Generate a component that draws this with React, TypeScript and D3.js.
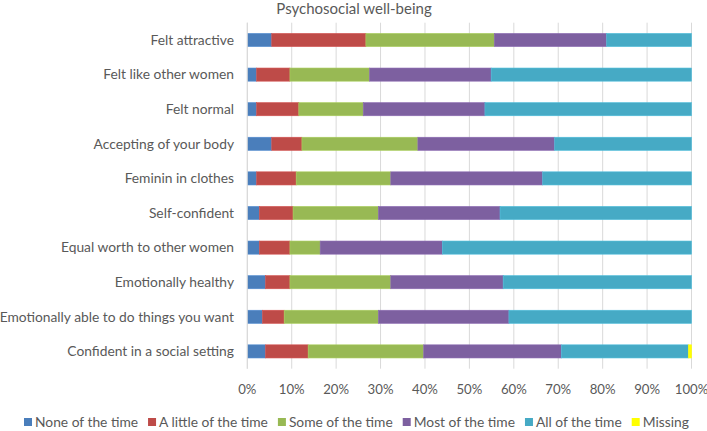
import React from "react";
import * as d3 from "d3";

const categories = [
  "Felt attractive",
  "Felt like other women",
  "Felt normal",
  "Accepting of your body",
  "Feminin in clothes",
  "Self-confident",
  "Equal worth to other women",
  "Emotionally healthy",
  "Emotionally able to do things you want",
  "Confident in a social setting",
];
const seriesNames = [
  "None of the time",
  "A little of the time",
  "Some of the time",
  "Most of the time",
  "All of the time",
  "Missing",
];
const noneOfTheTime = [5.5, 2.1, 2.1, 5.5, 2.1, 2.7, 2.7, 4.1, 3.4, 4.1];
const aLittleOfTheTime = [21.2, 7.5, 9.5, 6.8, 8.9, 7.6, 6.9, 5.5, 4.9, 9.6];
const someOfTheTime = [28.9, 17.9, 14.5, 26.1, 21.3, 19.2, 6.8, 22.7, 21.2, 26.0];
const mostOfTheTime = [25.3, 27.4, 27.4, 30.8, 34.2, 27.4, 27.5, 25.3, 29.4, 31.0];
const allOfTheTime = [19.1, 45.1, 46.5, 30.8, 33.5, 43.1, 56.1, 42.4, 41.1, 28.6];
const missing = [0, 0, 0, 0, 0, 0, 0, 0, 0, 0.7];
const tickValues = [0, 0.1, 0.2, 0.3, 0.4, 0.5, 0.6, 0.7, 0.8, 0.9, 1.0];
const colors = ["#4A7EBB", "#BE4B48", "#98B954", "#7D60A0", "#46AAC5", "#FFFF00"];
const title = "Psychosocial well-being";

const W = 707;
const H = 431;
const FONT = "Lato, 'Open Sans', sans-serif";
const FS = 13.8;

export default function App() {
  const seriesValues = [noneOfTheTime, aLittleOfTheTime, someOfTheTime, mostOfTheTime, allOfTheTime, missing];
  const rows = categories.map((c, i) => {
    const r: any = { category: c };
    seriesNames.forEach((s, j) => (r[s] = seriesValues[j][i]));
    return r;
  });
  const totals = rows.map((r) => seriesNames.reduce((a, s) => a + r[s], 0));
  const normRows = rows.map((r, i) => {
    const o: any = { category: r.category };
    seriesNames.forEach((s) => (o[s] = r[s] / totals[i]));
    return o;
  });
  const stacked = d3.stack<any>().keys(seriesNames)(normRows);

  const x = d3.scaleLinear().domain([0, 1]).range([247.3, 691.5]);
  const y = d3.scaleBand().domain(categories).range([22.7, 368.7]).paddingInner(0.62).paddingOuter(0.31);
  const fmt = d3.format(".0%");

  return (
    <svg width={W} height={H} style={{ position: "absolute", left: 0, top: 0, background: "#fff" }}>
      <text x={354} y={14} textAnchor="middle" fontFamily={FONT} fontSize={15} fill="#595959">
        {title}
      </text>
      {tickValues.map((t) => (
        <line key={t} x1={x(t)} x2={x(t)} y1={22.7} y2={368.7} stroke="#D9D9D9" strokeWidth={1} />
      ))}
      {stacked.map((layer, li) => (
        <g key={layer.key} fill={colors[li]}>
          {layer.map((d, i) => (
            <rect
              key={i}
              x={x(d[0])}
              y={y(categories[i])!}
              width={Math.max(0, x(d[1]) - x(d[0]))}
              height={y.bandwidth()}
              stroke={d3.color(colors[li])!.brighter(0.3).toString()}
              strokeWidth={0.6}
              strokeOpacity={d[1] - d[0] > 0 ? 1 : 0}
            />
          ))}
        </g>
      ))}
      <line x1={247.3} x2={247.3} y1={22.7} y2={368.7} stroke="#D9D9D9" strokeWidth={1} />
      {categories.map((c) => (
        <text
          key={c}
          x={234}
          y={y(c)! + y.bandwidth() / 2}
          dy="0.35em"
          textAnchor="end"
          fontFamily={FONT}
          fontSize={FS}
          fill="#595959"
        >
          {c}
        </text>
      ))}
      {tickValues.map((t) => (
        <text key={t} x={x(t)} y={394} textAnchor="middle" fontFamily={FONT} fontSize={13.2} fill="#595959">
          {fmt(t)}
        </text>
      ))}
      <Legend />
    </svg>
  );
}

function Legend() {
  const ref = React.useRef<SVGGElement>(null);
  React.useEffect(() => {
    const g = d3.select(ref.current);
    g.selectAll("*").remove();
    let xPos = 24;
    seriesNames.forEach((s, i) => {
      g.append("rect").attr("x", xPos).attr("y", 418).attr("width", 8).attr("height", 8).attr("fill", colors[i]);
      const t = g
        .append("text")
        .attr("x", xPos + 11)
        .attr("y", 427)
        .attr("font-family", FONT)
        .attr("font-size", FS)
        .attr("fill", "#595959")
        .text(s);
      const w = (t.node() as SVGTextElement).getComputedTextLength();
      xPos += 11 + w + 10;
    });
  }, []);
  return <g ref={ref} />;
}
